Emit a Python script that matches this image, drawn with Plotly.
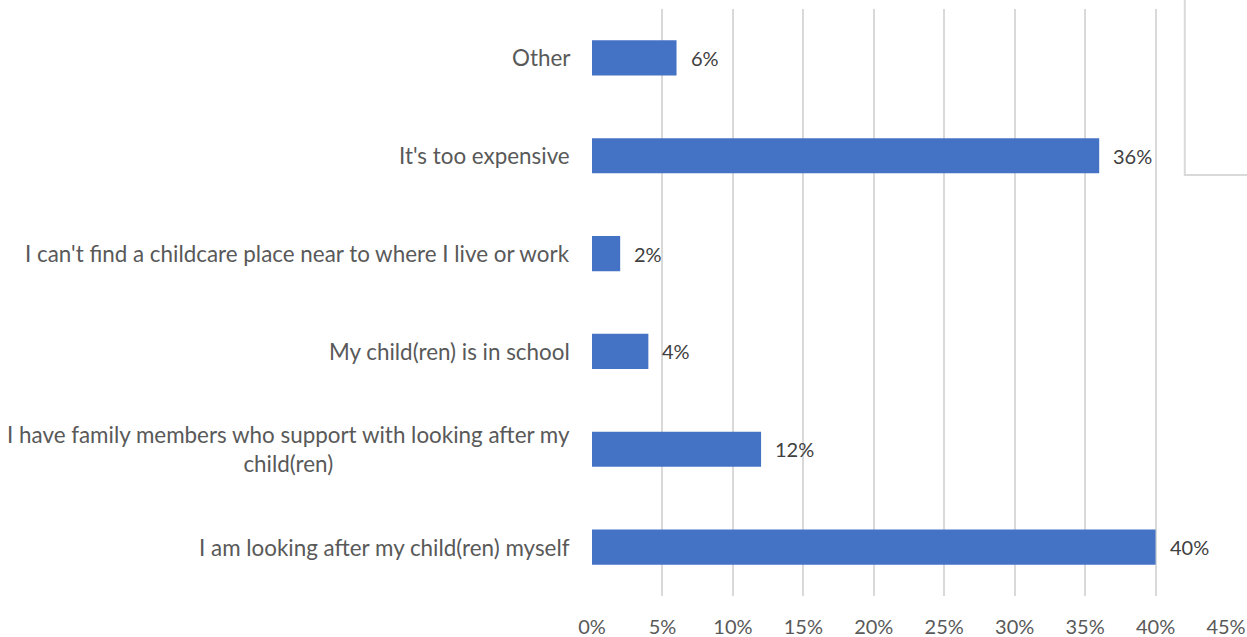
import plotly.graph_objects as go

# Survey responses: reasons for not using formal childcare (share of respondents)
categories = [
    "I am looking after my child(ren) myself",
    "I have family members who support with looking after my<br>child(ren)",
    "My child(ren) is in school",
    "I can't find a childcare place near to where I live or work",
    "It's too expensive",
    "Other",
]
values = [40, 12, 4, 2, 36, 6]
tick_vals = [0, 5, 10, 15, 20, 25, 30, 35, 40, 45]
tick_text = [f"{v}%" for v in tick_vals]

FONT = "Lato"
BAR = "#4472C4"
GRID = "#D9D9D9"
LABEL = "#595959"
VALUE = "#404040"

fig = go.Figure()
fig.add_trace(go.Bar(
    y=list(range(len(categories))),
    x=values,
    orientation="h",
    marker=dict(color=BAR, line=dict(width=0)),
    hoverinfo="skip",
))

# Value labels just past the bar ends
for i, v in enumerate(values):
    fig.add_annotation(
        x=v, y=i, xref="x", yref="y", text=f"{v}%",
        xanchor="left", yanchor="middle", xshift=12, showarrow=False,
        font=dict(family=FONT, size=20, color=VALUE),
    )

# Category labels, centred line-by-line for the wrapped one
for i, c in enumerate(categories):
    fig.add_annotation(
        x=0, y=i, xref="paper", yref="y", text=c,
        xanchor="right", yanchor="middle", xshift=-20, showarrow=False,
        align="center",
        font=dict(family=FONT, size=22.4, color=LABEL),
    )

# Frame in the upper right corner
fig.add_shape(type="rect", xref="paper", yref="paper",
              x0=0.935, x1=1.2, y0=0.717, y1=1.2,
              fillcolor="white", line=dict(width=0), layer="above")
fig.add_shape(type="path", xref="paper", yref="paper",
              path="M 0.935 1.2 L 0.935 0.717 L 1.2 0.717",
              line=dict(color=GRID, width=2), layer="above")

fig.update_layout(
    width=1247, height=637,
    margin=dict(l=592, r=21, t=9, b=41, autoexpand=False),
    paper_bgcolor="white", plot_bgcolor="white",
    bargap=0.64,
    showlegend=False,
    font=dict(family=FONT, size=20, color=LABEL),
)
fig.update_xaxes(
    range=[0, 45], tickvals=tick_vals, ticktext=tick_text,
    showgrid=True, gridcolor=GRID, gridwidth=2,
    zeroline=False, showline=False, ticks="",
    ticklabelstandoff=17, automargin=False,
    tickfont=dict(family=FONT, size=20, color=LABEL),
    fixedrange=True,
)
fig.update_yaxes(
    range=[-0.5, len(categories) - 0.5],
    showticklabels=False, showgrid=False, zeroline=False,
    showline=False, ticks="", fixedrange=True, automargin=False,
)

fig.write_html("out.html", config={"displayModeBar": False})
